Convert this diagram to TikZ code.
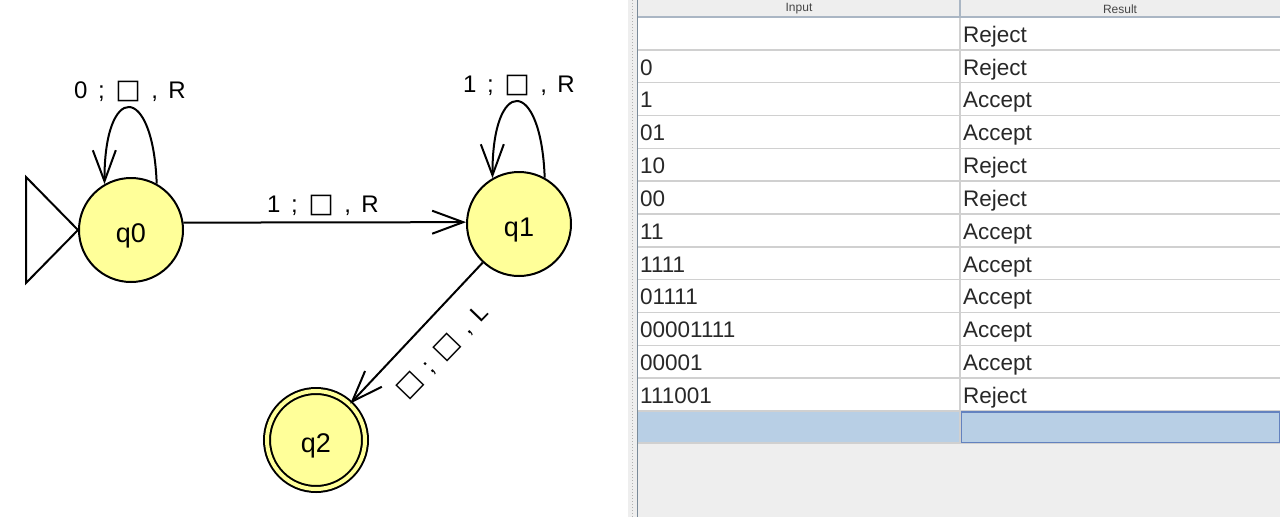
\documentclass[tikz,border=0pt]{standalone}
\usepackage{fontspec}
\setmainfont{Liberation Sans}
\newfontfamily\tmsymfont{DejaVu Sans}
\usetikzlibrary{arrows.meta}
\definecolor{stfill}{RGB}{255,255,153}
\definecolor{celltext}{RGB}{40,40,40}
\definecolor{headtext}{RGB}{70,70,70}
\definecolor{panelgray}{RGB}{238,238,238}
\definecolor{headfill}{RGB}{238,238,238}
\definecolor{gridgray}{RGB}{208,208,208}
\definecolor{headline}{RGB}{170,182,196}
\definecolor{tborder}{RGB}{122,138,153}
\definecolor{selblue}{RGB}{184,207,229}
\definecolor{selborder}{RGB}{99,130,191}
\newcommand{\tmgap}{\hspace{10.5pt}}
\newcommand{\tmsq}{{\tmsymfont\fontsize{27}{28}\selectfont □}}
\begin{document}
\begin{tikzpicture}[x=1pt,y=-1pt,
  state/.style={circle,draw=black,line width=2pt,fill=stfill,minimum size=104pt,inner sep=0pt},
  accstate/.style={circle,draw=black,line width=2pt,fill=stfill,minimum size=98pt,inner sep=0pt,double=stfill,double distance=4pt},
  edge/.style={line width=2pt,-{Straight Barb[length=31pt,width=23pt]}},
  elabel/.style={font=\fontsize{24}{26}\selectfont,inner sep=0pt},
  slabel/.style={font=\fontsize{27}{29}\selectfont,inner sep=0pt},
  cell/.style={anchor=base west,font=\fontsize{22.5}{24}\selectfont,text=celltext,inner sep=0pt},
  head/.style={font=\fontsize{12}{14}\selectfont,text=headtext,inner sep=0pt}]
\useasboundingbox (0,0) rectangle (1280,517);
\fill[white] (0,0) rectangle (1280,517);

% ---------- automaton ----------
\node[state] (q0) at (131,230) {};
\node[state] (q1) at (519,224) {};
\node[accstate] (q2) at (316,440) {};
\node[slabel] (q0t) at ([yshift=-6pt]q0.center) {q0};
\node[slabel] (q1t) at ([yshift=-6pt]q1.center) {q1};
\node[slabel] (q2t) at ([yshift=-6pt]q2.center) {q2};

% initial marker
\draw[line width=2pt,line join=miter] (q0.west) -- ++(-52,-53) -- ++(0,106) -- cycle;

% loops
\draw[edge] (q0.61) .. controls (153,82) and (104,82) .. (q0.120);
\draw[edge] (q1.61) .. controls (541,76) and (492,76) .. (q1.120);
% edges
\draw[edge] (q0.8) -- (q1.178);
\draw[edge] (q1) -- (q2);

% labels
\node[elabel] (l00) at (130,91) {0\tmgap;\tmgap\tmsq\tmgap,\tmgap R};
\node[elabel] (l11) at (519,85) {1\tmgap;\tmgap\tmsq\tmgap,\tmgap R};
\node[elabel] (l01) at (323,205) {1\tmgap;\tmgap\tmsq\tmgap,\tmgap R};
\node[elabel,rotate=46] (l12) at (443,352) {\tmsq\tmgap;\tmgap\tmsq\tmgap,\tmgap L};

% ---------- table panel ----------
\fill[panelgray] (628,0) rectangle (637,517);
\draw[gray!60,dotted,line width=1pt] (632,0) -- (632,517);
\fill[headfill] (637,0) rectangle (1280,17);
\fill[white] (637,17) rectangle (1280,411);
\fill[selblue] (637,411) rectangle (1280,443);
\fill[panelgray] (637,443) rectangle (1280,517);
\foreach \k in {1,...,11} {
  \draw[gridgray,line width=1.5pt] (637,17+32.83*\k) -- (1280,17+32.83*\k);
}
\draw[gridgray,line width=1.5pt] (637,411) -- (1280,411);
\draw[gridgray,line width=1.5pt] (637,443) -- (1280,443);
\draw[gridgray,line width=1.2pt] (960,17) -- (960,443);
\draw[headline,line width=1.2pt] (960,0) -- (960,17);
\draw[headline,line width=1.5pt] (637,17) -- (1280,17);
\draw[selborder,line width=1.5pt] (961.5,412) rectangle (1279.3,442.3);
\draw[tborder,line width=1.5pt] (637.5,0) -- (637.5,517);

\node[head] (hin) at (799,9) {Input};
\node[head] (hres) at (1120,9) {Result};

\foreach \inp/\res [count=\i] in {{}/Reject,0/Reject,1/Accept,01/Accept,10/Reject,00/Reject,11/Accept,1111/Accept,01111/Accept,00001111/Accept,00001/Accept,111001/Reject} {
  \node[cell] (in\i) at (640,17+32.83*\i-7.5) {\inp};
  \node[cell] (res\i) at (963,17+32.83*\i-7.5) {\res};
}
\end{tikzpicture}
\end{document}
